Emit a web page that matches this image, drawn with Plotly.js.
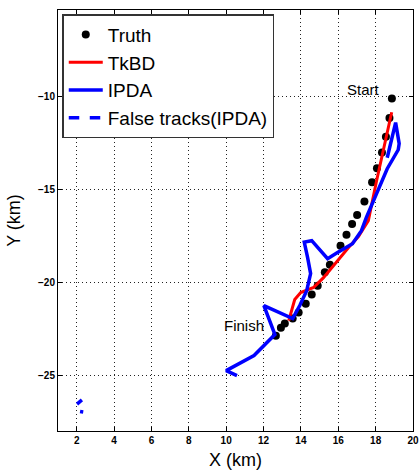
<!DOCTYPE html>
<html>
<head>
<meta charset="utf-8">
<script src="https://cdn.plot.ly/plotly-3.0.1.min.js"></script>
<style>html,body{margin:0;padding:0;background:#fff;}#chart{width:420px;height:473px;}</style>
</head>
<body>
<div id="chart"></div>
<script>
// Truth trajectory (km)
const truthX = [18.87, 18.74, 18.55, 18.34, 18.07, 17.81, 17.40, 17.01, 16.74, 16.44, 16.12, 15.55, 15.28, 14.90, 14.58, 14.26, 13.88, 13.56, 13.14, 12.93, 12.66];
const truthY = [-10.11, -11.16, -12.17, -13.01, -13.87, -14.62, -15.65, -16.38, -16.86, -17.44, -18.03, -19.05, -19.46, -20.18, -20.66, -21.15, -21.63, -21.95, -22.22, -22.44, -22.87];
// TkBD track
const tkbdX = [18.86, 18.46, 18.04, 17.61, 17.08, 16.55, 15.96, 15.21, 14.68, 13.99, 13.67, 13.46, 13.35];
const tkbdY = [-10.85, -12.65, -14.59, -16.68, -17.54, -18.13, -18.83, -19.75, -20.28, -20.55, -20.93, -21.68, -22.06];
// IPDA track
const ipdaX = [18.62, 19.07, 19.26, 19.21, 18.62, 18.09, 17.50, 17.24, 16.76, 15.96, 15.43, 14.58, 14.18, 14.36, 14.52, 14.31, 13.94, 13.56, 12.02, 12.61, 11.49, 10.00, 10.58];
const ipdaY = [-13.30, -11.41, -12.54, -12.87, -13.89, -15.12, -16.52, -17.22, -17.92, -18.40, -18.73, -17.76, -17.84, -18.67, -19.53, -20.45, -21.25, -21.95, -21.25, -22.81, -23.94, -24.75, -25.02];
// False tracks (IPDA)
const falseX = [2.02, 2.28, null, 2.18, 2.35];
const falseY = [-26.55, -26.33, null, -26.95, -26.98];
// Axis ticks
const xTicks = [2, 4, 6, 8, 10, 12, 14, 16, 18, 20];
const yTicks = [-25, -20, -15, -10];

const FONT = "Liberation Sans, Arial, Helvetica, sans-serif";

const traces = [
  {x: truthX, y: truthY, mode: "markers", name: "Truth",
   marker: {color: "#000", size: 8, symbol: "circle"}},
  {x: tkbdX, y: tkbdY, mode: "lines", name: "TkBD",
   line: {color: "#ff0000", width: 3}},
  {x: ipdaX, y: ipdaY, mode: "lines", name: "IPDA",
   line: {color: "#0000ff", width: 3.5}},
  {x: falseX, y: falseY, mode: "lines", name: "False tracks(IPDA)",
   line: {color: "#0000ff", width: 3.5, dash: "dash"}, connectgaps: false}
];

const axisCommon = {
  showline: true, linecolor: "#000", linewidth: 1, mirror: "ticks",
  ticks: "inside", ticklen: 4, tickcolor: "#000",
  showgrid: true, gridcolor: "#222", gridwidth: 1, griddash: "1px,3px",
  zeroline: false,
  tickfont: {family: FONT, size: 10, color: "#000", weight: "bold"}
};

const layout = {
  width: 420, height: 473,
  margin: {l: 58, r: 7, t: 10, b: 42},
  paper_bgcolor: "#fff", plot_bgcolor: "#fff",
  showlegend: true,
  legend: {
    x: 0.012, y: 0.99, xanchor: "left", yanchor: "top",
    bgcolor: "#fff", bordercolor: "#333", borderwidth: 1.5,
    font: {family: FONT, size: 19, color: "#000"},
    tracegroupgap: 0, itemwidth: 34
  },
  xaxis: Object.assign({}, axisCommon, {
    range: [1, 20], tickvals: xTicks,
    title: {text: "X (km)", font: {family: FONT, size: 18, color: "#000"}, standoff: 8}
  }),
  yaxis: Object.assign({}, axisCommon, {
    range: [-28, -5.35], tickvals: yTicks,
    tickformat: "d",
    title: {text: "Y (km)", font: {family: FONT, size: 18, color: "#000"}, standoff: 12}
  }),
  annotations: [
    {x: 18.35, y: -9.6, xref: "x", yref: "y", text: "Start", showarrow: false,
     xanchor: "right", yanchor: "middle", font: {family: FONT, size: 15, color: "#000"}},
    {x: 12.13, y: -22.33, xref: "x", yref: "y", text: "Finish", showarrow: false,
     xanchor: "right", yanchor: "middle", font: {family: FONT, size: 15, color: "#000"}}
  ]
};

Plotly.newPlot("chart", traces, layout, {staticPlot: true, displayModeBar: false});
</script>
</body>
</html>
